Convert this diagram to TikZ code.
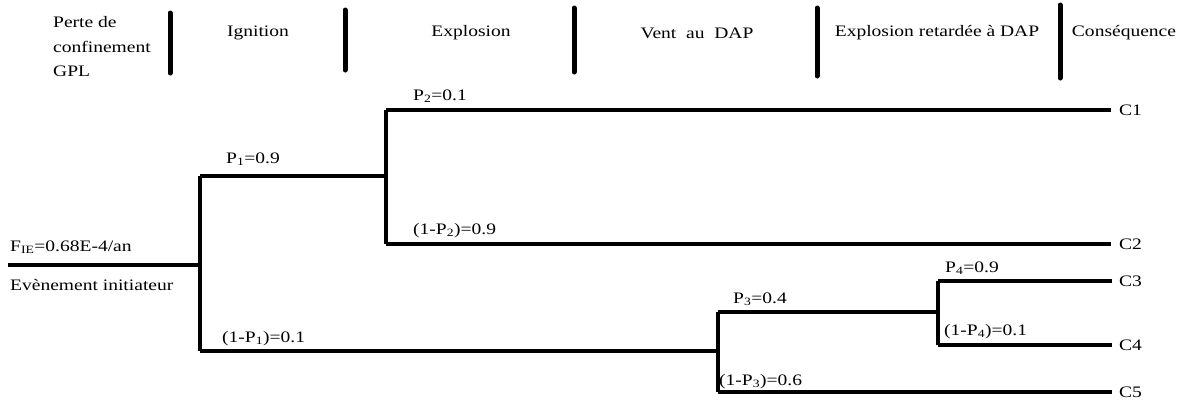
\documentclass[tikz,border=0pt]{standalone}
\usepackage{fontspec}
\setmainfont{Liberation Serif}[FakeStretch=1.22]
\begin{document}
\begin{tikzpicture}[x=1pt,y=-1pt,
  txt/.style={font=\fontsize{16}{19}\selectfont, inner sep=0pt},
  lbl/.style={txt, anchor=base west},
  hdr/.style={txt, anchor=center},
  divider/.style={line width=5pt, line cap=round},
  branch/.style={line width=4.5pt, line cap=butt}]
\useasboundingbox (0,0) rectangle (1183,400);

% column dividers
\foreach \x/\a/\b [count=\i] in {170/13/73, 345/10/70, 574/8/72, 817/8/76, 1060/5/78}{
  \coordinate (dt\i) at (\x,\a);
  \coordinate (db\i) at (\x,\b);
  \draw[divider] (dt\i) -- (db\i);
}

% column headings
\node[lbl] (h0a) at (53,27) {Perte de};
\node[lbl] (h0b) at (53,52) {confinement};
\node[lbl] (h0c) at (53,76) {GPL};
\node[hdr] (h1) at (258,33) {Ignition};
\node[hdr] (h2) at (471,33) {Explosion};
\node[hdr] (h3) at (697,33) {Vent\ \ au\ \ DAP};
\node[hdr] (h4) at (937,33) {Explosion retardée à DAP};
\node[hdr] (h5) at (1124,33) {Conséquence};

% tree junctions and end points
\coordinate (ie) at (8,265);
\coordinate (j1) at (200,265);
\coordinate (j1t) at (200,176);
\coordinate (j1b) at (200,351);
\coordinate (j2) at (386,176);
\coordinate (j2t) at (386,110);
\coordinate (j2b) at (386,244);
\coordinate (j3) at (718,351);
\coordinate (j3t) at (718,312);
\coordinate (j3b) at (718,392);
\coordinate (j4) at (938,312);
\coordinate (j4t) at (938,281);
\coordinate (j4b) at (938,345);
\coordinate (e1) at (1111,110);
\coordinate (e2) at (1111,244);
\coordinate (e3) at (1112,281);
\coordinate (e4) at (1112,345);
\coordinate (e5) at (1112,392);

% branches
\draw[branch] (ie) -- (j1);
\draw[branch] (j1t) -- (j1b);
\draw[branch] (j1t) -- (j2);
\draw[branch] (j2t) -- (j2b);
\draw[branch] (j2t) -- (e1);
\draw[branch] (j2b) -- (e2);
\draw[branch] (j1b) -- (j3);
\draw[branch] (j3t) -- (j3b);
\draw[branch] (j3t) -- (j4);
\draw[branch] (j4t) -- (j4b);
\draw[branch] (j4t) -- (e3);
\draw[branch] (j4b) -- (e4);
\draw[branch] (j3b) -- (e5);

% consequences
\node[txt, anchor=west] (c1) at (1119,110) {C1};
\node[txt, anchor=west] (c2) at (1119,244) {C2};
\node[txt, anchor=west] (c3) at (1119,281) {C3};
\node[txt, anchor=west] (c4) at (1119,345) {C4};
\node[txt, anchor=west] (c5) at (1119,392) {C5};

% initiating event
\node[lbl] (fie) at (10,251) {F\textsubscript{IE}=0.68E-4/an};
\node[lbl] (ev) at (10,290) {Evènement initiateur};

% branch probabilities
\node[lbl] (p1) at (226,163) {P\textsubscript{1}=0.9};
\node[lbl] (q1) at (222,342) {(1-P\textsubscript{1})=0.1};
\node[lbl] (p2) at (413,100) {P\textsubscript{2}=0.1};
\node[lbl] (q2) at (413,234) {(1-P\textsubscript{2})=0.9};
\node[lbl] (p3) at (733,303) {P\textsubscript{3}=0.4};
\node[lbl] (q3) at (719,385) {(1-P\textsubscript{3})=0.6};
\node[lbl] (p4) at (945,272) {P\textsubscript{4}=0.9};
\node[lbl] (q4) at (944,335) {(1-P\textsubscript{4})=0.1};
\end{tikzpicture}
\end{document}
